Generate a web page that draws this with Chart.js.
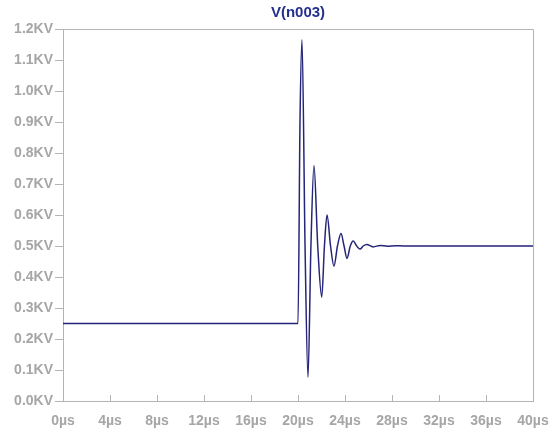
<!DOCTYPE html>
<html>
<head>
<meta charset="utf-8">
<script src="https://cdn.jsdelivr.net/npm/chart.js@4/dist/chart.umd.min.js"></script>
<style>
  html, body { margin: 0; padding: 0; background: #fff; }
  #wrap { width: 555px; height: 430px; }
</style>
</head>
<body>
<div id="wrap"><canvas id="myChart" width="555" height="430"></canvas></div>
<script>
// V(n003) transient
const timeUs = [0, 20.0, 20.17, 20.34, 20.6, 20.85, 21.1, 21.36, 21.68, 22.02, 22.25, 22.47,
  22.77, 23.06, 23.36, 23.66, 23.92, 24.17, 24.45, 24.7, 25.0, 25.28, 25.55, 25.85,
  26.4, 27.0, 27.6, 28.3, 29.0, 40];
const voltKV = [0.25, 0.25, 0.90, 1.165, 0.50, 0.077, 0.50, 0.76, 0.50, 0.335, 0.50, 0.60,
  0.50, 0.435, 0.50, 0.54, 0.50, 0.46, 0.50, 0.516, 0.50, 0.49, 0.50, 0.505,
  0.497, 0.502, 0.499, 0.501, 0.50, 0.50];

const xTickLabels = ['0µs', '4µs', '8µs', '12µs', '16µs', '20µs', '24µs', '28µs', '32µs', '36µs', '40µs'];
const yTickLabels = ['0.0KV', '0.1KV', '0.2KV', '0.3KV', '0.4KV', '0.5KV', '0.6KV',
  '0.7KV', '0.8KV', '0.9KV', '1.0KV', '1.1KV', '1.2KV'];
const titleText = 'V(n003)';

const axisGray = '#b4b4b4';
const labelGray = '#a6a6a6';
const traceColor = '#25257a';
const fontFam = 'Liberation Sans, Arial, sans-serif';

// frame on top/right, inward x ticks and the title centred over the plot pane
const framePlugin = {
  id: 'frame',
  afterDraw(chart) {
    const { ctx, chartArea: a, scales } = chart;
    ctx.save();
    ctx.strokeStyle = axisGray;
    ctx.lineWidth = 1;
    ctx.beginPath();
    ctx.moveTo(a.left, a.top + 0.5);
    ctx.lineTo(a.right + 0.5, a.top + 0.5);
    ctx.lineTo(a.right + 0.5, a.bottom);
    ctx.stroke();
    const xs = scales.x;
    ctx.beginPath();
    xs.ticks.forEach((t, i) => {
      const px = Math.round(xs.getPixelForTick(i)) + 0.5;
      ctx.moveTo(px, a.bottom);
      ctx.lineTo(px, a.bottom - 6);
    });
    ctx.stroke();

    ctx.fillStyle = '#23308f';
    ctx.font = 'bold 15px ' + fontFam;
    ctx.textAlign = 'center';
    ctx.textBaseline = 'middle';
    ctx.fillText(titleText, (a.left + a.right) / 2, 13);
    ctx.restore();
  }
};

const ctx = document.getElementById('myChart');

new Chart(ctx, {
  type: 'line',
  data: {
    datasets: [{
      label: titleText,
      data: timeUs.map((t, i) => ({ x: t, y: voltKV[i] })),
      borderColor: traceColor,
      borderWidth: 1.5,
      pointRadius: 0,
      fill: false,
      cubicInterpolationMode: 'monotone'
    }]
  },
  options: {
    responsive: false,
    animation: false,
    devicePixelRatio: 1,
    layout: { padding: { left: 0, right: 22, top: 29, bottom: 0 } },
    plugins: {
      legend: { display: false },
      tooltip: { enabled: false },
      title: { display: false }
    },
    scales: {
      x: {
        type: 'linear',
        min: 0,
        max: 40,
        border: { display: true, color: axisGray },
        grid: { display: true, drawOnChartArea: false, drawTicks: false, color: axisGray },
        ticks: {
          stepSize: 4,
          padding: 12,
          maxRotation: 0,
          autoSkip: false,
          color: labelGray,
          font: { family: fontFam, size: 14, weight: 'bold' },
          callback: (v, i) => xTickLabels[i]
        },
        afterFit: (s) => { s.height = 29; s.paddingRight = 0; s.paddingLeft = 0; }
      },
      y: {
        min: 0,
        max: 1.2,
        border: { display: true, color: axisGray },
        grid: { display: true, drawOnChartArea: false, drawTicks: true, tickLength: 8, color: axisGray },
        ticks: {
          stepSize: 0.1,
          padding: 2,
          autoSkip: false,
          color: labelGray,
          font: { family: fontFam, size: 14, weight: 'bold' },
          callback: (v, i) => yTickLabels[i]
        },
        afterFit: (s) => { s.width = 63; s.paddingTop = 0; s.paddingBottom = 0; }
      }
    }
  },
  plugins: [framePlugin]
});
</script>
</body>
</html>
